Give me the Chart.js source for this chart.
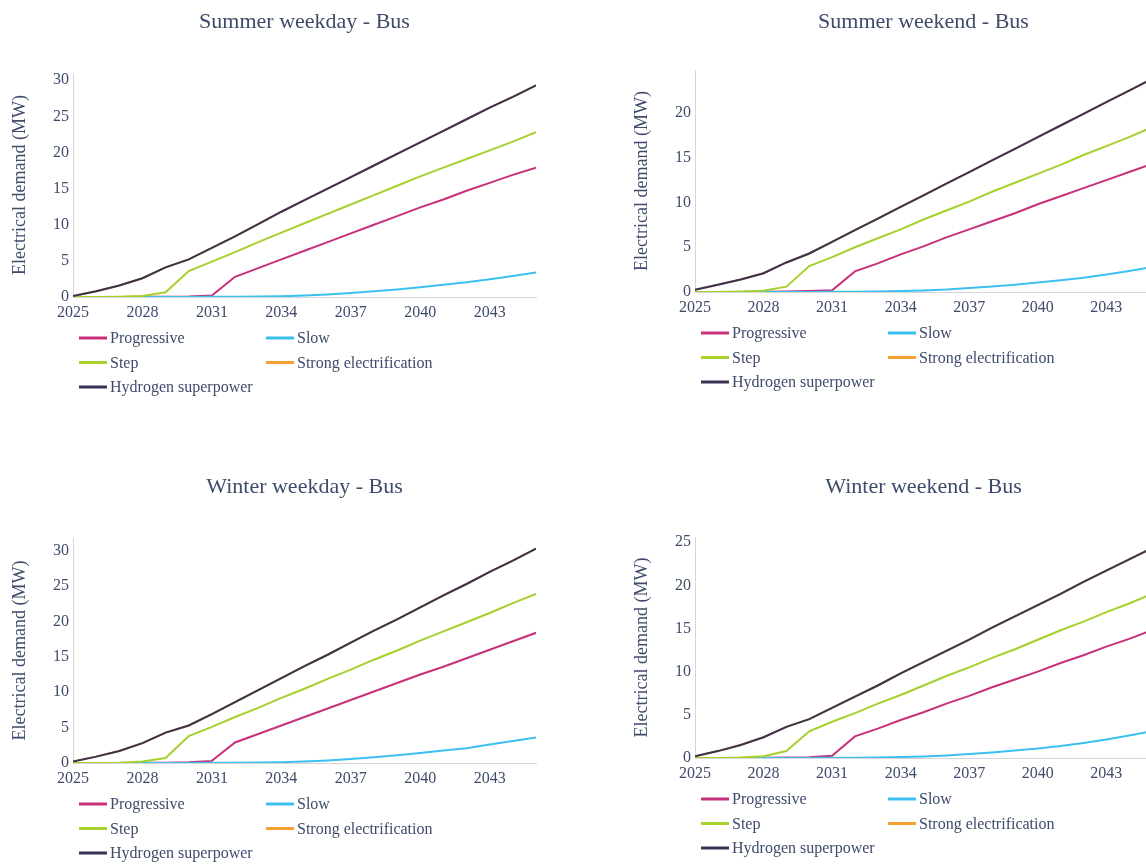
<!DOCTYPE html>
<html>
<head>
<meta charset="utf-8">
<script src="https://cdn.jsdelivr.net/npm/chart.js@4"></script>
<style>
  html, body { margin: 0; padding: 0; background: #fff; overflow: hidden; }
  body { width: 1146px; height: 866px; position: relative; }
  canvas { position: absolute; }
</style>
</head>
<body>
<canvas id="c1" width="573" height="433" style="left:0;top:0"></canvas>
<canvas id="c2" width="600" height="433" style="left:573px;top:0"></canvas>
<canvas id="c3" width="573" height="433" style="left:0;top:433px"></canvas>
<canvas id="c4" width="600" height="433" style="left:573px;top:433px"></canvas>
<script>
const years = [2025, 2026, 2027, 2028, 2029, 2030, 2031, 2032, 2033, 2034, 2035,
  2036, 2037, 2038, 2039, 2040, 2041, 2042, 2043, 2044, 2045];
const xTicks = [2025, 2028, 2031, 2034, 2037, 2040, 2043];
const yTicks30 = [0, 5, 10, 15, 20, 25, 30];
const yTicks20 = [0, 5, 10, 15, 20];
const yTicks25 = [0, 5, 10, 15, 20, 25];
const scenarios = ['Progressive', 'Slow', 'Step', 'Strong electrification', 'Hydrogen superpower'];
const colors = ['#c8317a', '#3cc0f0', '#a4d12c', '#f5a030', '#3a3356'];

// Summer weekday
const sumWdProgressive = [0, 0, 0, 0.02, 0.05, 0.08, 0.2, 2.8, 4.0, 5.2, 6.4, 7.6, 8.8, 10.0, 11.2, 12.4, 13.5, 14.7, 15.8, 16.9, 17.9];
const sumWdSlow = [0, 0, 0, 0, 0, 0, 0.02, 0.04, 0.07, 0.1, 0.2, 0.35, 0.55, 0.8, 1.05, 1.35, 1.7, 2.05, 2.45, 2.9, 3.4];
const sumWdStep = [0, 0, 0.05, 0.15, 0.65, 3.6, 4.9, 6.2, 7.6, 8.9, 10.2, 11.5, 12.8, 14.1, 15.4, 16.7, 17.9, 19.1, 20.3, 21.5, 22.8];
const sumWdStrong = [0.15, 0.8, 1.6, 2.6, 4.1, 5.2, 6.8, 8.4, 10.1, 11.8, 13.4, 15.0, 16.6, 18.2, 19.8, 21.4, 23.0, 24.6, 26.2, 27.7, 29.3];
const sumWdHydrogen = [0.15, 0.8, 1.6, 2.6, 4.1, 5.2, 6.8, 8.4, 10.1, 11.8, 13.4, 15.0, 16.6, 18.2, 19.8, 21.4, 23.0, 24.6, 26.2, 27.7, 29.3];

// Summer weekend
const sumWeProgressive = [0, 0, 0, 0.02, 0.05, 0.1, 0.2, 2.3, 3.2, 4.2, 5.1, 6.1, 7.0, 7.9, 8.8, 9.8, 10.7, 11.6, 12.5, 13.4, 14.3];
const sumWeSlow = [0, 0, 0, 0, 0, 0, 0.02, 0.04, 0.06, 0.1, 0.17, 0.28, 0.45, 0.62, 0.82, 1.05, 1.3, 1.6, 1.95, 2.35, 2.8];
const sumWeStep = [0, 0, 0.05, 0.15, 0.6, 2.9, 3.9, 5.0, 6.0, 7.0, 8.1, 9.1, 10.1, 11.2, 12.2, 13.2, 14.2, 15.3, 16.3, 17.3, 18.4];
const sumWeStrong = [0.25, 0.8, 1.4, 2.1, 3.3, 4.3, 5.6, 6.9, 8.2, 9.5, 10.8, 12.1, 13.4, 14.7, 16.0, 17.3, 18.6, 19.9, 21.2, 22.5, 23.8];
const sumWeHydrogen = [0.25, 0.8, 1.4, 2.1, 3.3, 4.3, 5.6, 6.9, 8.2, 9.5, 10.8, 12.1, 13.4, 14.7, 16.0, 17.3, 18.6, 19.9, 21.2, 22.5, 23.8];

// Winter weekday
const winWdProgressive = [0, 0, 0, 0.02, 0.05, 0.1, 0.3, 2.9, 4.1, 5.3, 6.5, 7.7, 8.9, 10.1, 11.3, 12.5, 13.6, 14.8, 16.0, 17.2, 18.4];
const winWdSlow = [0, 0, 0, 0, 0, 0, 0.02, 0.04, 0.07, 0.12, 0.2, 0.35, 0.55, 0.8, 1.1, 1.4, 1.75, 2.1, 2.6, 3.1, 3.6];
const winWdStep = [0, 0, 0.05, 0.2, 0.7, 3.8, 5.1, 6.5, 7.8, 9.2, 10.5, 11.9, 13.2, 14.6, 15.9, 17.3, 18.6, 19.9, 21.2, 22.6, 23.9];
const winWdStrong = [0.2, 0.9, 1.7, 2.8, 4.3, 5.3, 6.9, 8.6, 10.3, 12.0, 13.7, 15.3, 17.0, 18.7, 20.3, 22.0, 23.7, 25.3, 27.0, 28.6, 30.3];
const winWdHydrogen = [0.2, 0.9, 1.7, 2.8, 4.3, 5.3, 6.9, 8.6, 10.3, 12.0, 13.7, 15.3, 17.0, 18.7, 20.3, 22.0, 23.7, 25.3, 27.0, 28.6, 30.3];

// Winter weekend
const winWeProgressive = [0, 0, 0, 0.02, 0.05, 0.1, 0.25, 2.5, 3.4, 4.4, 5.3, 6.3, 7.2, 8.2, 9.1, 10.0, 11.0, 11.9, 12.9, 13.8, 14.8];
const winWeSlow = [0, 0, 0, 0, 0, 0, 0.02, 0.04, 0.07, 0.11, 0.18, 0.3, 0.45, 0.65, 0.87, 1.1, 1.4, 1.75, 2.15, 2.6, 3.1];
const winWeStep = [0, 0, 0.05, 0.2, 0.8, 3.1, 4.2, 5.2, 6.3, 7.3, 8.4, 9.5, 10.5, 11.6, 12.6, 13.7, 14.8, 15.8, 16.9, 17.9, 19.0];
const winWeStrong = [0.2, 0.8, 1.5, 2.4, 3.6, 4.5, 5.8, 7.1, 8.4, 9.8, 11.1, 12.4, 13.7, 15.1, 16.4, 17.7, 19.0, 20.4, 21.7, 23.0, 24.3];
const winWeHydrogen = [0.2, 0.8, 1.5, 2.4, 3.6, 4.5, 5.8, 7.1, 8.4, 9.8, 11.1, 12.4, 13.7, 15.1, 16.4, 17.7, 19.0, 20.4, 21.7, 23.0, 24.3];

const serif = '"Liberation Serif", "Times New Roman", serif';
const textColor = '#3f4b6b';

// titles and the two-column legend below the axis
const panelDecor = {
  id: 'panelDecor',
  afterDraw(chart, args, opts) {
    const ctx = chart.ctx;
    const a = chart.chartArea;
    ctx.save();
    ctx.fillStyle = textColor;
    ctx.font = '22px ' + serif;
    ctx.textAlign = 'center';
    ctx.textBaseline = 'middle';
    ctx.fillText(opts.title, (a.left + a.right) / 2, opts.titleY);

    ctx.font = '16px ' + serif;
    ctx.textAlign = 'left';
    chart.data.datasets.forEach((ds, i) => {
      const col = i % 2;
      const row = Math.floor(i / 2);
      const x = a.left + (col ? 193 : 6);
      const y = a.bottom + 41 + row * 24.5;
      ctx.strokeStyle = ds.borderColor;
      ctx.lineWidth = 3;
      ctx.beginPath();
      ctx.moveTo(x, y);
      ctx.lineTo(x + 28, y);
      ctx.stroke();
      ctx.fillText(ds.label, x + 31, y + 1);
    });
    ctx.restore();
  }
};

function makeChart(id, title, titleY, series, yMax, yTicks, pad) {
  // later scenarios sit on top, like the original
  const datasets = scenarios.map((name, i) => ({
    label: name,
    data: years.map((yr, j) => ({ x: yr, y: series[i][j] })),
    borderColor: colors[i],
    backgroundColor: colors[i],
    borderWidth: 2,
    pointRadius: 0,
    tension: 0,
    order: scenarios.length - i
  }));

  return new Chart(document.getElementById(id), {
    type: 'line',
    data: { datasets },
    plugins: [panelDecor],
    options: {
      responsive: false,
      animation: false,
      layout: { padding: pad },
      plugins: {
        legend: { display: false },
        title: { display: false },
        tooltip: { enabled: false },
        panelDecor: { title, titleY }
      },
      scales: {
        x: {
          type: 'linear',
          min: 2025,
          max: 2045,
          afterBuildTicks: (scale) => { scale.ticks = xTicks.map(v => ({ value: v })); },
          afterFit: (scale) => { scale.height = 30; },
          grid: { display: false, drawTicks: false },
          border: { display: true, color: '#d6d6d6', width: 1 },
          ticks: {
            padding: 6,
            color: textColor,
            font: { family: serif, size: 16 },
            maxRotation: 0,
            callback: (v) => String(v)
          }
        },
        y: {
          min: 0,
          max: yMax,
          afterBuildTicks: (scale) => { scale.ticks = yTicks.map(v => ({ value: v })); },
          afterFit: (scale) => { scale.width = 73; },
          grid: { display: false, drawTicks: false },
          border: { display: true, color: '#d6d6d6', width: 1 },
          ticks: {
            padding: 4,
            color: textColor,
            font: { family: serif, size: 16 }
          },
          title: {
            display: true,
            text: 'Electrical demand (MW)',
            color: textColor,
            font: { family: serif, size: 18 },
            padding: { top: 9, bottom: 0 }
          }
        }
      }
    }
  });
}

makeChart('c1', 'Summer weekday - Bus', 22,
  [sumWdProgressive, sumWdSlow, sumWdStep, sumWdStrong, sumWdHydrogen], 31, yTicks30,
  { left: 0, top: 73, right: 37, bottom: 106 });
makeChart('c2', 'Summer weekend - Bus', 22,
  [sumWeProgressive, sumWeSlow, sumWeStep, sumWeStrong, sumWeHydrogen], 24.8, yTicks20,
  { left: 49, top: 70, right: 21, bottom: 111 });
makeChart('c3', 'Winter weekday - Bus', 54,
  [winWdProgressive, winWdSlow, winWdStep, winWdStrong, winWdHydrogen], 31.8, yTicks30,
  { left: 0, top: 105, right: 37, bottom: 73 });
makeChart('c4', 'Winter weekend - Bus', 54,
  [winWeProgressive, winWeSlow, winWeStep, winWeStrong, winWeHydrogen], 25.6, yTicks25,
  { left: 49, top: 104, right: 21, bottom: 78 });
</script>
</body>
</html>
